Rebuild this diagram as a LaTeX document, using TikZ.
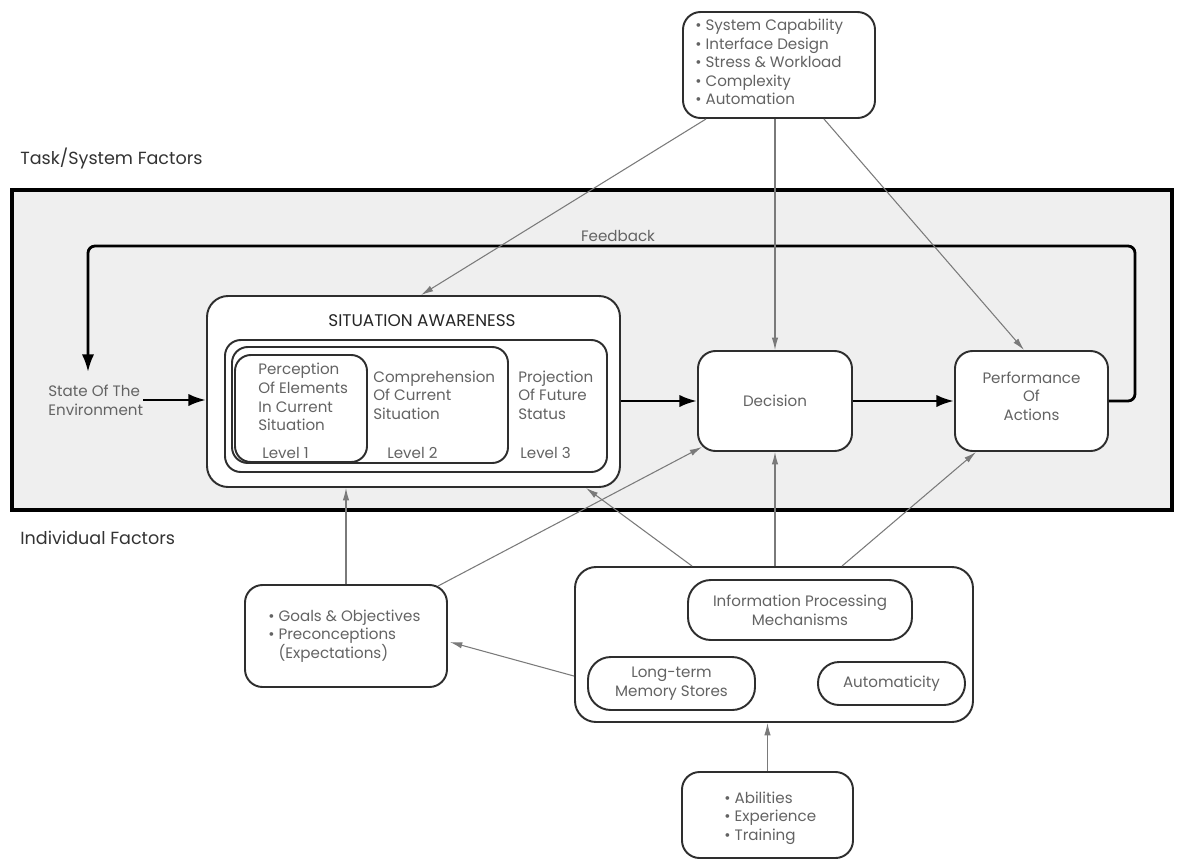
\documentclass[tikz,border=0pt]{standalone}
\usepackage{fontspec}
\setmainfont{Poppins}
\usetikzlibrary{arrows.meta,fit,calc}
\definecolor{txt}{HTML}{636363}
\definecolor{ln}{HTML}{2E2E2E}
\definecolor{ar}{HTML}{7A7A7A}
\definecolor{bgin}{HTML}{EFEFEF}
\begin{document}
\begin{tikzpicture}[x=0.02cm,y=-0.02cm,
  box/.style={draw=ln, line width=1.1pt, rounded corners=10pt, fill=white, inner sep=0pt},
  lbl/.style={text=txt, font=\fontsize{8.6}{10.6}\selectfont, inner sep=0pt, align=left},
  clbl/.style={text=txt, font=\fontsize{8.6}{10.6}\selectfont, inner sep=0pt, align=center},
  main/.style={draw=black, line width=1.6pt, -{Latex[length=10pt,width=7pt]}},
  infl/.style={draw=ar, line width=0.6pt, -{Latex[length=7pt,width=3.6pt]}, color=ar},
  side/.style={font=\fontsize{10}{12}\selectfont, text=black!80, inner sep=0pt, anchor=west}
]
\useasboundingbox (0,0) rectangle (1184,863);
\fill[white] (0,0) rectangle (1184,863);

% frame
\node[fit={(12,190)(1172,510)}, draw=black, line width=2.4pt, fill=bgin, inner sep=0pt] (frame) {};
\node[side] (tasklbl) at (20,158) {Task/System Factors};
\node[side] (indlbl) at (20,538) {Individual Factors};

% boxes
\node[box, fit={(683,12)(875,118)}] (task) {};
\node[lbl, anchor=west] (tasktxt) at (695,62) {\textbullet\ System Capability\\\textbullet\ Interface Design\\\textbullet\ Stress \& Workload\\\textbullet\ Complexity\\\textbullet\ Automation};

\node[box, rounded corners=12pt, fit={(207,296)(620,487)}] (sa) {};
\node[font=\fontsize{9.6}{11}\selectfont, text=black!85, inner sep=0pt] (satitle) at (422,321) {SITUATION AWARENESS};
\node[box, rounded corners=9pt, fit={(225,340)(607,472)}] (l3) {};
\node[box, rounded corners=9pt, fit={(232,347)(508,463)}] (l2) {};
\node[box, rounded corners=9pt, fit={(235,355)(367,462)}] (l1) {};
\node[lbl, anchor=west] (t1) at (258,397) {Perception\\Of Elements\\In Current\\Situation};
\node[lbl, anchor=west] (t2) at (373,395) {Comprehension\\Of Current\\Situation};
\node[lbl, anchor=west] (t3) at (518,395) {Projection\\Of Future\\Status};
\node[lbl, anchor=west] (v1) at (262,453) {Level 1};
\node[lbl, anchor=west] (v2) at (387,453) {Level 2};
\node[lbl, anchor=west] (v3) at (520,453) {Level 3};

\node[lbl, anchor=west] (env) at (48,400) {State Of The\\Environment};
\node[box, fit={(698,351)(852,451)}] (dec) {};
\node[clbl] (dectxt) at (dec.center) {Decision};
\node[box, fit={(955,351)(1108,451)}] (perf) {};
\node[clbl] (perftxt) at ($(perf.center)+(0,-5)$) {Performance\\Of\\Actions};
\node[lbl] (fblbl) at (618,236) {Feedback};

\node[box, fit={(245,585)(447,687)}] (goals) {};
\node[lbl, anchor=west] (goalstxt) at (268,636) {\textbullet\ Goals \& Objectives\\\textbullet\ Preconceptions\\\phantom{\textbullet\ }(Expectations)};

\node[box, rounded corners=12pt, fit={(575,567)(973,722)}] (ind) {};
\node[box, rounded corners=13pt, fit={(688,580)(912,640)}] (info) {};
\node[clbl] (infotxt) at (info.center) {Information Processing\\Mechanisms};
\node[box, rounded corners=13pt, fit={(588,657)(755,710)}] (ltm) {};
\node[clbl] (ltmtxt) at (ltm.center) {Long-term\\Memory Stores};
\node[box, rounded corners=12pt, fit={(818,662)(965,705)}] (auto) {};
\node[clbl] (autotxt) at (auto.center) {Automaticity};

\node[box, fit={(682,772)(853,858)}] (abil) {};
\node[lbl, anchor=west] (abiltxt) at (724,818) {\textbullet\ Abilities\\\textbullet\ Experience\\\textbullet\ Training};

% main flow
\coordinate (fbR) at (1135,246);
\coordinate (fbL) at (88,246);
\coordinate (fbEnd) at (88,372);
\draw[main] (env.east) -- (env.east -| sa.west);
\draw[main] (dec.west -| sa.east) -- (dec.west);
\draw[main] (dec.east) -- (perf.west);
\draw[main, rounded corners=4pt] (perf.east) -| (fbR) -- (fbL) -- (fbEnd);

% influences
\draw[infl] ($(task.south west)+(24,0)$) -- ($(sa.north west)+(215,0)$);
\draw[infl] (task.south -| dec.north) -- (dec.north);
\draw[infl] ($(task.south east)+(-52,0)$) -- ($(perf.north west)+(70,0)$);
\draw[infl] (goals.north) -- (goals.north |- sa.south);
\draw[infl] ($(goals.north east)+(-10,2)$) -- ($(dec.south west)+(5,-5)$);
\draw[infl] ($(ind.north west)+(118,0)$) -- ($(sa.south west)+(380,0)$);
\draw[infl] (ind.north -| dec.south) -- (dec.south);
\draw[infl] ($(ind.north west)+(268,0)$) -- ($(perf.south west)+(22,0)$);
\draw[infl] ($(ind.north west)+(0,110)$) -- ($(goals.north east)+(2,58)$);
\draw[infl] (abil.north) -- (abil.north |- ind.south);
\end{tikzpicture}
\end{document}
